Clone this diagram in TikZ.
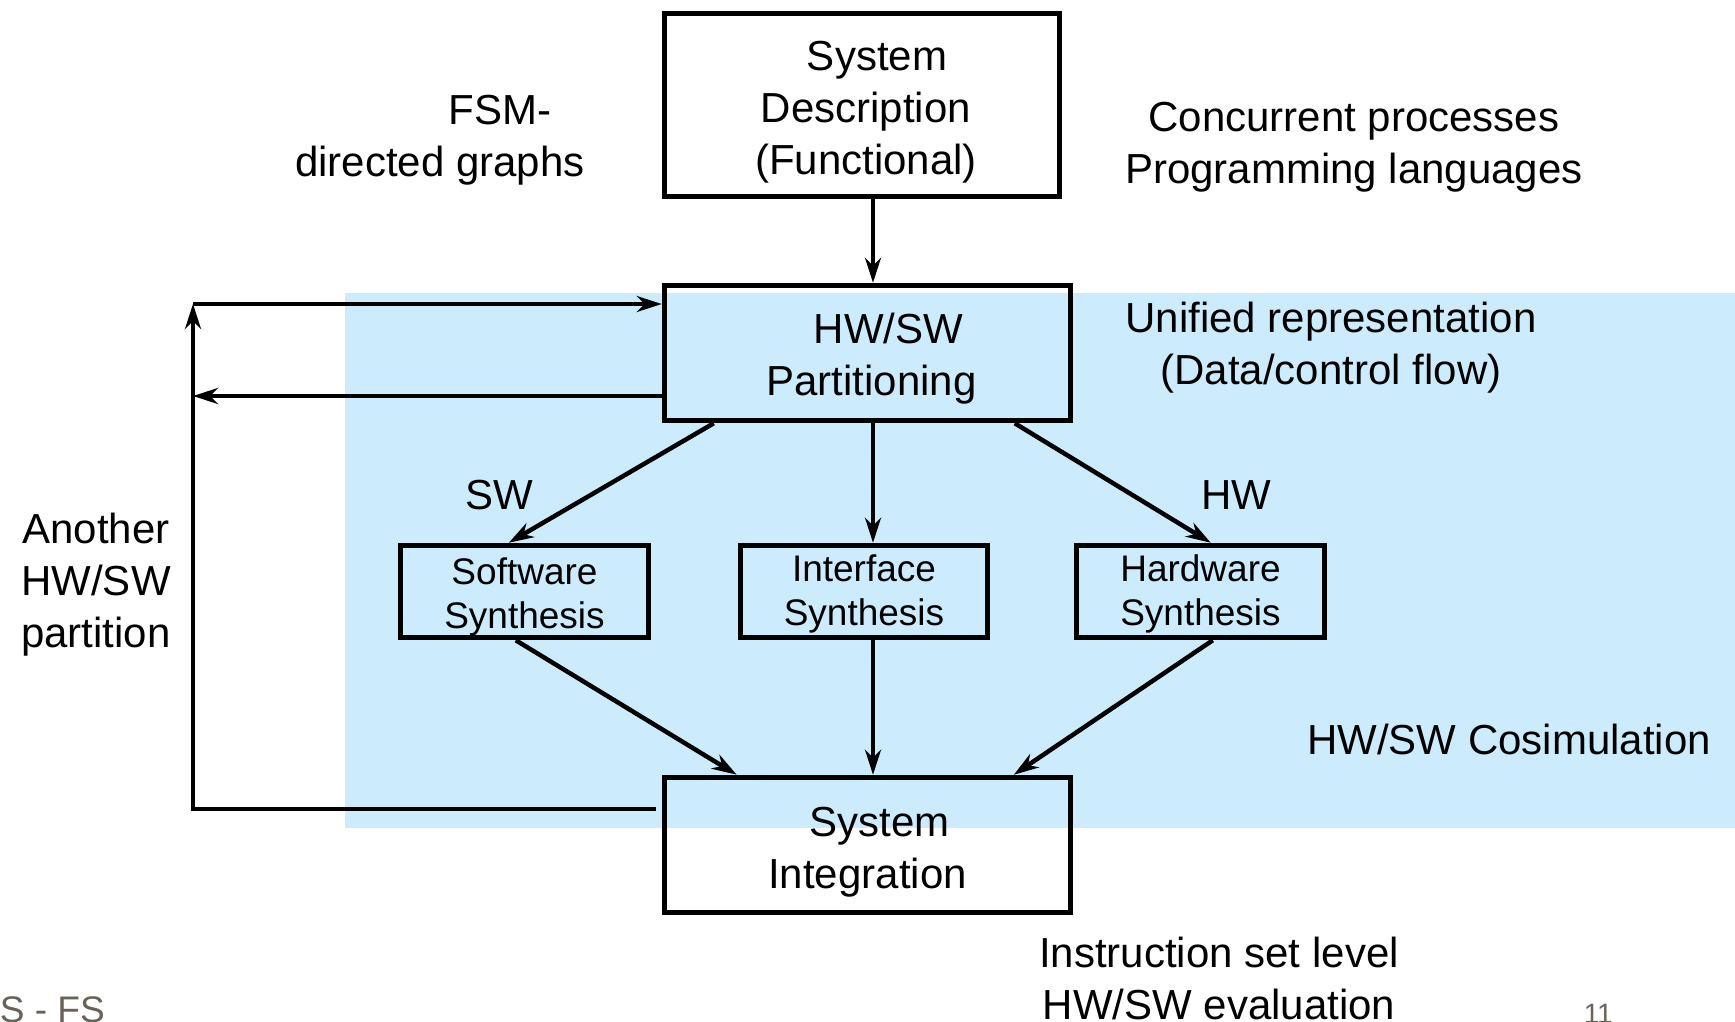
\documentclass[tikz,border=0pt]{standalone}
\usepackage{fontspec}
\setmainfont{Liberation Sans}
\usetikzlibrary{arrows.meta,calc}
\definecolor{simblue}{RGB}{204,236,253}
\definecolor{footgray}{RGB}{105,98,88}
\begin{document}
\begin{tikzpicture}[x=1pt,y=-1pt,
  big/.style={font=\fontsize{42}{52}\selectfont},
  small/.style={font=\fontsize{37}{44}\selectfont},
  box/.style={draw,line width=5.5pt,inner sep=0pt},
  lbl/.style={big,align=center,inner sep=0pt},
  slbl/.style={small,align=center,inner sep=0pt},
  flow/.style={line width=4.5pt,-{Stealth[length=25pt,width=16pt,inset=8pt]}}]
\useasboundingbox (0,0) rectangle (1735,1021);

% cosimulation area
\fill[simblue] (345,293) rectangle (1735,828);

% main flow boxes
\node[box,minimum width=395,minimum height=183] (desc) at (862,105) {};
\node[box,minimum width=406,minimum height=135] (part) at (867.5,353) {};
\node[box,minimum width=248,minimum height=92] (sw) at (524.5,591.5) {};
\node[box,minimum width=247,minimum height=92] (iface) at (864,591.5) {};
\node[box,minimum width=248,minimum height=92] (hw) at (1200.5,591.5) {};
\node[box,minimum width=406,minimum height=135] (integ) at (867.5,845) {};

% box captions
\node[lbl] (descText) at ($(desc.center)+(4,7)$)
  {\hspace*{22pt}System\\Description\\(Functional)};
\node[lbl] (partText) at ($(part.center)+(4,6)$)
  {\hspace*{34pt}HW/SW\\Partitioning};
\node[slbl] (swText) at ($(sw.center)+(0,5.5)$) {Software\\Synthesis};
\node[slbl] (ifaceText) at ($(iface.center)+(0,2)$) {Interface\\Synthesis};
\node[slbl] (hwText) at ($(hw.center)+(0,2)$) {Hardware\\Synthesis};
\node[lbl] (integText) at ($(integ.center)+(0,7)$)
  {\hspace*{24pt}System\\Integration};

% helper coordinates
\coordinate (spine) at (873,0);
\coordinate (loopTop) at (193,304);
\coordinate (loopMid) at (193,396);
\coordinate (loopBot) at (193,809);

% connectors
\draw[flow] (desc.south -| spine) -- (part.north -| spine);
\draw[flow] ($(part.south west)+(52,0)$) -- ($(sw.north west)+(111,0)$);
\draw[flow] (part.south -| spine) -- (iface.north -| spine);
\draw[flow] ($(part.south west)+(353,0)$) -- ($(hw.north west)+(137,0)$);
\draw[flow] ($(sw.south west)+(118,0)$) -- ($(integ.north west)+(75,0)$);
\draw[flow] (iface.south -| spine) -- (integ.north -| spine);
\draw[flow] ($(hw.south west)+(139,0)$) -- ($(integ.north west)+(352,0)$);

% repartitioning loop
\draw[flow] (loopTop) -- (part.west |- loopTop);
\draw[flow] (part.west |- loopMid) -- (loopMid);
\draw[flow,shorten <=6pt] (integ.west |- loopBot) -- (loopBot) -- (loopTop);

% annotations
\node[lbl] (fsm) at (440,140) {\hspace*{120pt}FSM-\\directed graphs};
\node[lbl] (conc) at (1354,147) {Concurrent processes\\Programming languages};
\node[lbl] (unif) at (1331,348) {Unified representation\\(Data/control flow)};
\node[lbl] (swl) at (499,495) {SW};
\node[lbl] (hwl) at (1236,495) {HW};
\node[lbl] (another) at (96,585) {Another\\HW/SW\\partition};
\node[lbl] (cosim) at (1509,739) {HW/SW Cosimulation};
\node[lbl] (instr) at (1219,978) {Instruction set level\\HW/SW evaluation};

% footer
\node[anchor=base east,inner sep=0pt,text=footgray,font=\fontsize{37}{44}\selectfont] (foot) at (105,1022) {S - FS};
\node[anchor=base east,inner sep=0pt,text=footgray,font=\fontsize{28}{34}\selectfont] (page) at (1613,1023) {11};
\end{tikzpicture}
\end{document}
